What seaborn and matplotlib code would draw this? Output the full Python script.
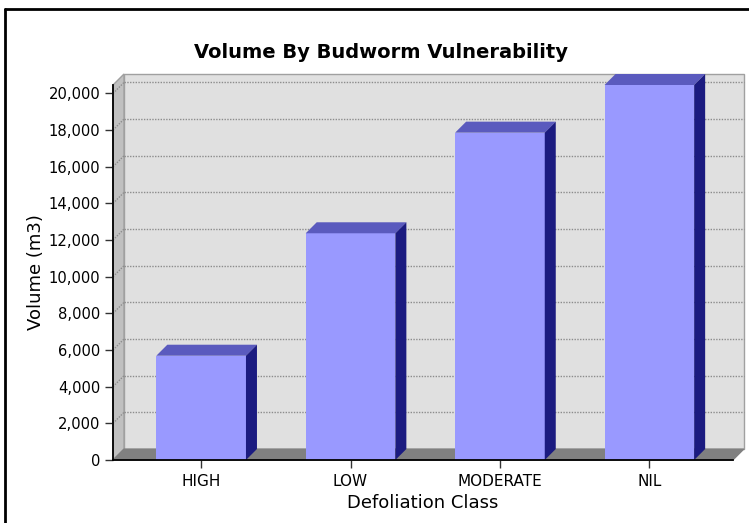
import matplotlib
matplotlib.use("Agg")
import matplotlib.pyplot as plt
from matplotlib.patches import Polygon
from matplotlib.lines import Line2D
from matplotlib.ticker import FuncFormatter, MultipleLocator
import seaborn as sns

categories = ["HIGH", "LOW", "MODERATE", "NIL"]
volumes = [5690, 12370, 17860, 20460]

title = "Volume By Budworm Vulnerability"
x_label = "Defoliation Class"
y_label = "Volume (m3)"

FRONT = "#9999ff"
TOP = "#5a5abe"
SIDE = "#1b1b80"
depth_px = 11


def main():
    sns.set_style("white")
    plt.rcParams["font.family"] = ["DejaVu Sans"]
    plt.rcParams["text.color"] = "black"
    plt.rcParams["axes.labelcolor"] = "black"
    plt.rcParams["xtick.color"] = "black"
    plt.rcParams["ytick.color"] = "black"

    fig = plt.figure(figsize=(7.49, 5.23), dpi=100)
    W, H = 749, 523
    ax = fig.add_axes([113 / W, 63 / H, 620 / W, 375 / H])
    ax.set_facecolor("none")

    sns.barplot(x=categories, y=volumes, color=FRONT, saturation=1,
                width=0.6, ax=ax, zorder=4, edgecolor="none", linewidth=0)

    x0, x1 = -0.59, 3.56
    y0, y1 = 0, max(volumes)
    ax.set_xlim(x0, x1)
    ax.set_ylim(y0, y1)

    # depth offset in data units
    dx = depth_px / 620 * (x1 - x0)
    dy = depth_px / 375 * (y1 - y0)

    # back wall
    ax.add_patch(Polygon([(x0 + dx, dy), (x1 + dx, dy), (x1 + dx, y1 + dy), (x0 + dx, y1 + dy)],
                         closed=True, facecolor="#e0e0e0", edgecolor="#a0a0a0", lw=1,
                         zorder=0, clip_on=False))
    # left wall
    ax.add_patch(Polygon([(x0, 0), (x0, y1), (x0 + dx, y1 + dy), (x0 + dx, dy)],
                         closed=True, facecolor="#c0c0c0", edgecolor="#a0a0a0", lw=1,
                         zorder=1, clip_on=False))
    # floor
    ax.add_patch(Polygon([(x0, 0), (x1, 0), (x1 + dx, dy), (x0 + dx, dy)],
                         closed=True, facecolor="#808080", edgecolor="#808080", lw=0.8,
                         zorder=1, clip_on=False))

    # grid lines on walls
    for v in range(2000, int(y1) + 1, 2000):
        ax.plot([x0 + dx, x1 + dx], [v + dy, v + dy], color="#8c8c8c", lw=1,
                ls=(0, (1, 1)), zorder=2, clip_on=False)
        ax.plot([x0, x0 + dx], [v, v + dy], color="#8c8c8c", lw=1,
                ls=(0, (1, 1)), zorder=2, clip_on=False)

    # 3d faces of the bars
    for p in ax.patches[:len(categories)]:
        bx, bw, bh = p.get_x(), p.get_width(), p.get_height()
        ax.add_patch(Polygon([(bx, bh), (bx + bw, bh), (bx + bw + dx, bh + dy), (bx + dx, bh + dy)],
                             closed=True, facecolor=TOP, edgecolor="none", zorder=4, clip_on=False))
        ax.add_patch(Polygon([(bx + bw, 0), (bx + bw, bh), (bx + bw + dx, bh + dy), (bx + bw + dx, dy)],
                             closed=True, facecolor=SIDE, edgecolor="none", zorder=4, clip_on=False))

    for s in ["top", "right"]:
        ax.spines[s].set_visible(False)
    for s in ["left", "bottom"]:
        ax.spines[s].set_color("black")
        ax.spines[s].set_linewidth(1.3)
        ax.spines[s].set_zorder(6)

    ax.yaxis.set_major_locator(MultipleLocator(2000))
    ax.yaxis.set_major_formatter(FuncFormatter(lambda v, _: f"{int(v):,}"))
    ax.tick_params(axis="y", length=6, width=1, color="#333333", pad=3,
                   labelsize=10.6, left=True)
    ax.tick_params(axis="x", length=6, width=1, color="#333333", pad=4,
                   labelsize=11, bottom=True)

    ax.set_xlabel(x_label, fontsize=13, labelpad=4)
    ax.set_ylabel(y_label, fontsize=13, labelpad=3)

    fig.text(381 / W, 1 - 58 / H, title, ha="center", va="baseline",
             fontsize=14, fontweight="bold")

    # figure border (left and top)
    fig.add_artist(Line2D([5 / W, 5 / W], [0, 1 - 9 / H], color="black", lw=2))
    fig.add_artist(Line2D([5 / W, 1], [1 - 9 / H, 1 - 9 / H], color="black", lw=2))

    fig.savefig("out.png", dpi=100)


main()
